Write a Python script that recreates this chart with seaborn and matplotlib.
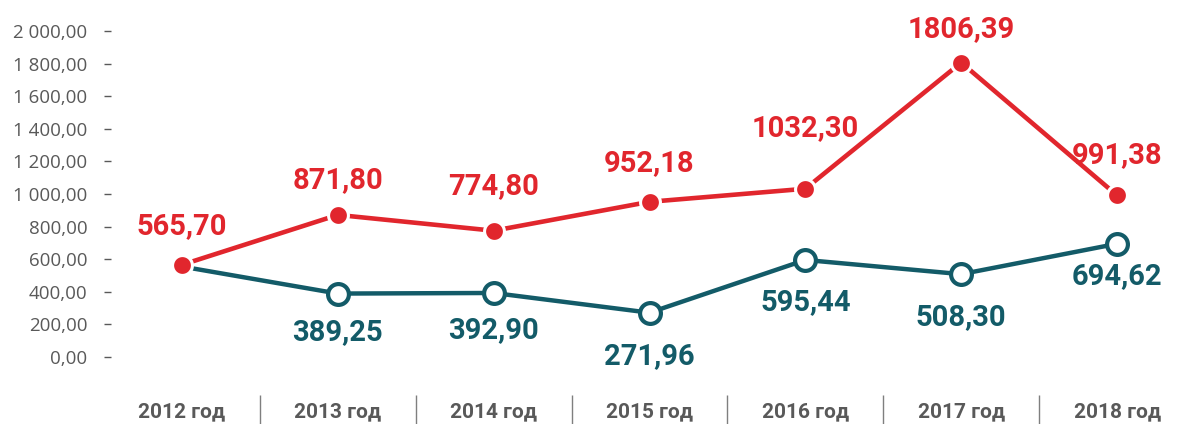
import numpy as np
import pandas as pd
import seaborn as sns
import matplotlib.pyplot as plt

# data
years = ["2012 год", "2013 год", "2014 год", "2015 год", "2016 год", "2017 год", "2018 год"]
red_vals = [565.70, 871.80, 774.80, 952.18, 1032.30, 1806.39, 991.38]
teal_vals = [555.0, 389.25, 392.90, 271.96, 595.44, 508.30, 694.62]
red_labels = ["565,70", "871,80", "774,80", "952,18", "1032,30", "1806,39", "991,38"]
teal_labels = [None, "389,25", "392,90", "271,96", "595,44", "508,30", "694,62"]

red = "#e1262d"
teal = "#135b68"
grey = "#595959"

sns.set_style("white")
plt.rcParams['font.family'] = ['Open Sans', 'DejaVu Sans']

fig = plt.figure(figsize=(11.98, 4.24), dpi=100)
ax = fig.add_axes([104 / 1198, 29 / 424, 1091 / 1198, (395 - 31) / 424])

df = pd.DataFrame({"x": np.arange(len(years)), "red": red_vals, "teal": teal_vals})

sns.lineplot(data=df, x="x", y="teal", ax=ax, color=teal, linewidth=3.2,
             marker="o", markersize=15, markerfacecolor="white",
             markeredgecolor=teal, markeredgewidth=3, markevery=list(range(1, 7)))
sns.lineplot(data=df, x="x", y="red", ax=ax, color=red, linewidth=3.3,
             marker="o", markersize=14.3, markerfacecolor=red,
             markeredgecolor="white", markeredgewidth=2.2)

# label offsets in points (dy)
red_dy = [28, 25, 32, 28, 44, 24, 29]
teal_dy = [0, -28, -27, -31, -30, -31, -23]
for i, (v, t) in enumerate(zip(red_vals, red_labels)):
    ax.annotate(t, (i, v), xytext=(0, red_dy[i]), textcoords="offset points",
                ha="center", va="center", color=red, fontsize=21,
                fontweight="bold", family="Roboto", annotation_clip=False)
for i, (v, t) in enumerate(zip(teal_vals, teal_labels)):
    if t is None:
        continue
    ax.annotate(t, (i, v), xytext=(0, teal_dy[i]), textcoords="offset points",
                ha="center", va="center", color=teal, fontsize=21,
                fontweight="bold", family="Roboto", annotation_clip=False)

ax.set_xlim(-0.5, 6.5)
ax.set_ylim(-233, 2000)
yt = np.arange(0, 2001, 200)
ax.set_yticks(yt)
ax.set_yticklabels([f"{v:,.2f}".replace(",", " ").replace(".", ",") for v in yt],
                   color=grey, fontsize=13.5)
ax.tick_params(axis="y", direction="in", length=5, width=1, color=grey, pad=12, left=True)

ax.set_xticks(range(len(years)))
ax.set_xticklabels(years, color=grey, fontsize=15, fontweight="bold", family="Roboto")
ax.set_xticks(np.arange(0.5, 6, 1), minor=True)
ax.tick_params(axis="x", which="major", length=0, pad=5)
ax.tick_params(axis="x", which="minor", direction="out", length=21, width=1, color="#7f7f7f", bottom=True)

for s in ax.spines.values():
    s.set_visible(False)
ax.set_xlabel("")
ax.set_ylabel("")
ax.grid(False)

fig.savefig("out.png", dpi=100)
